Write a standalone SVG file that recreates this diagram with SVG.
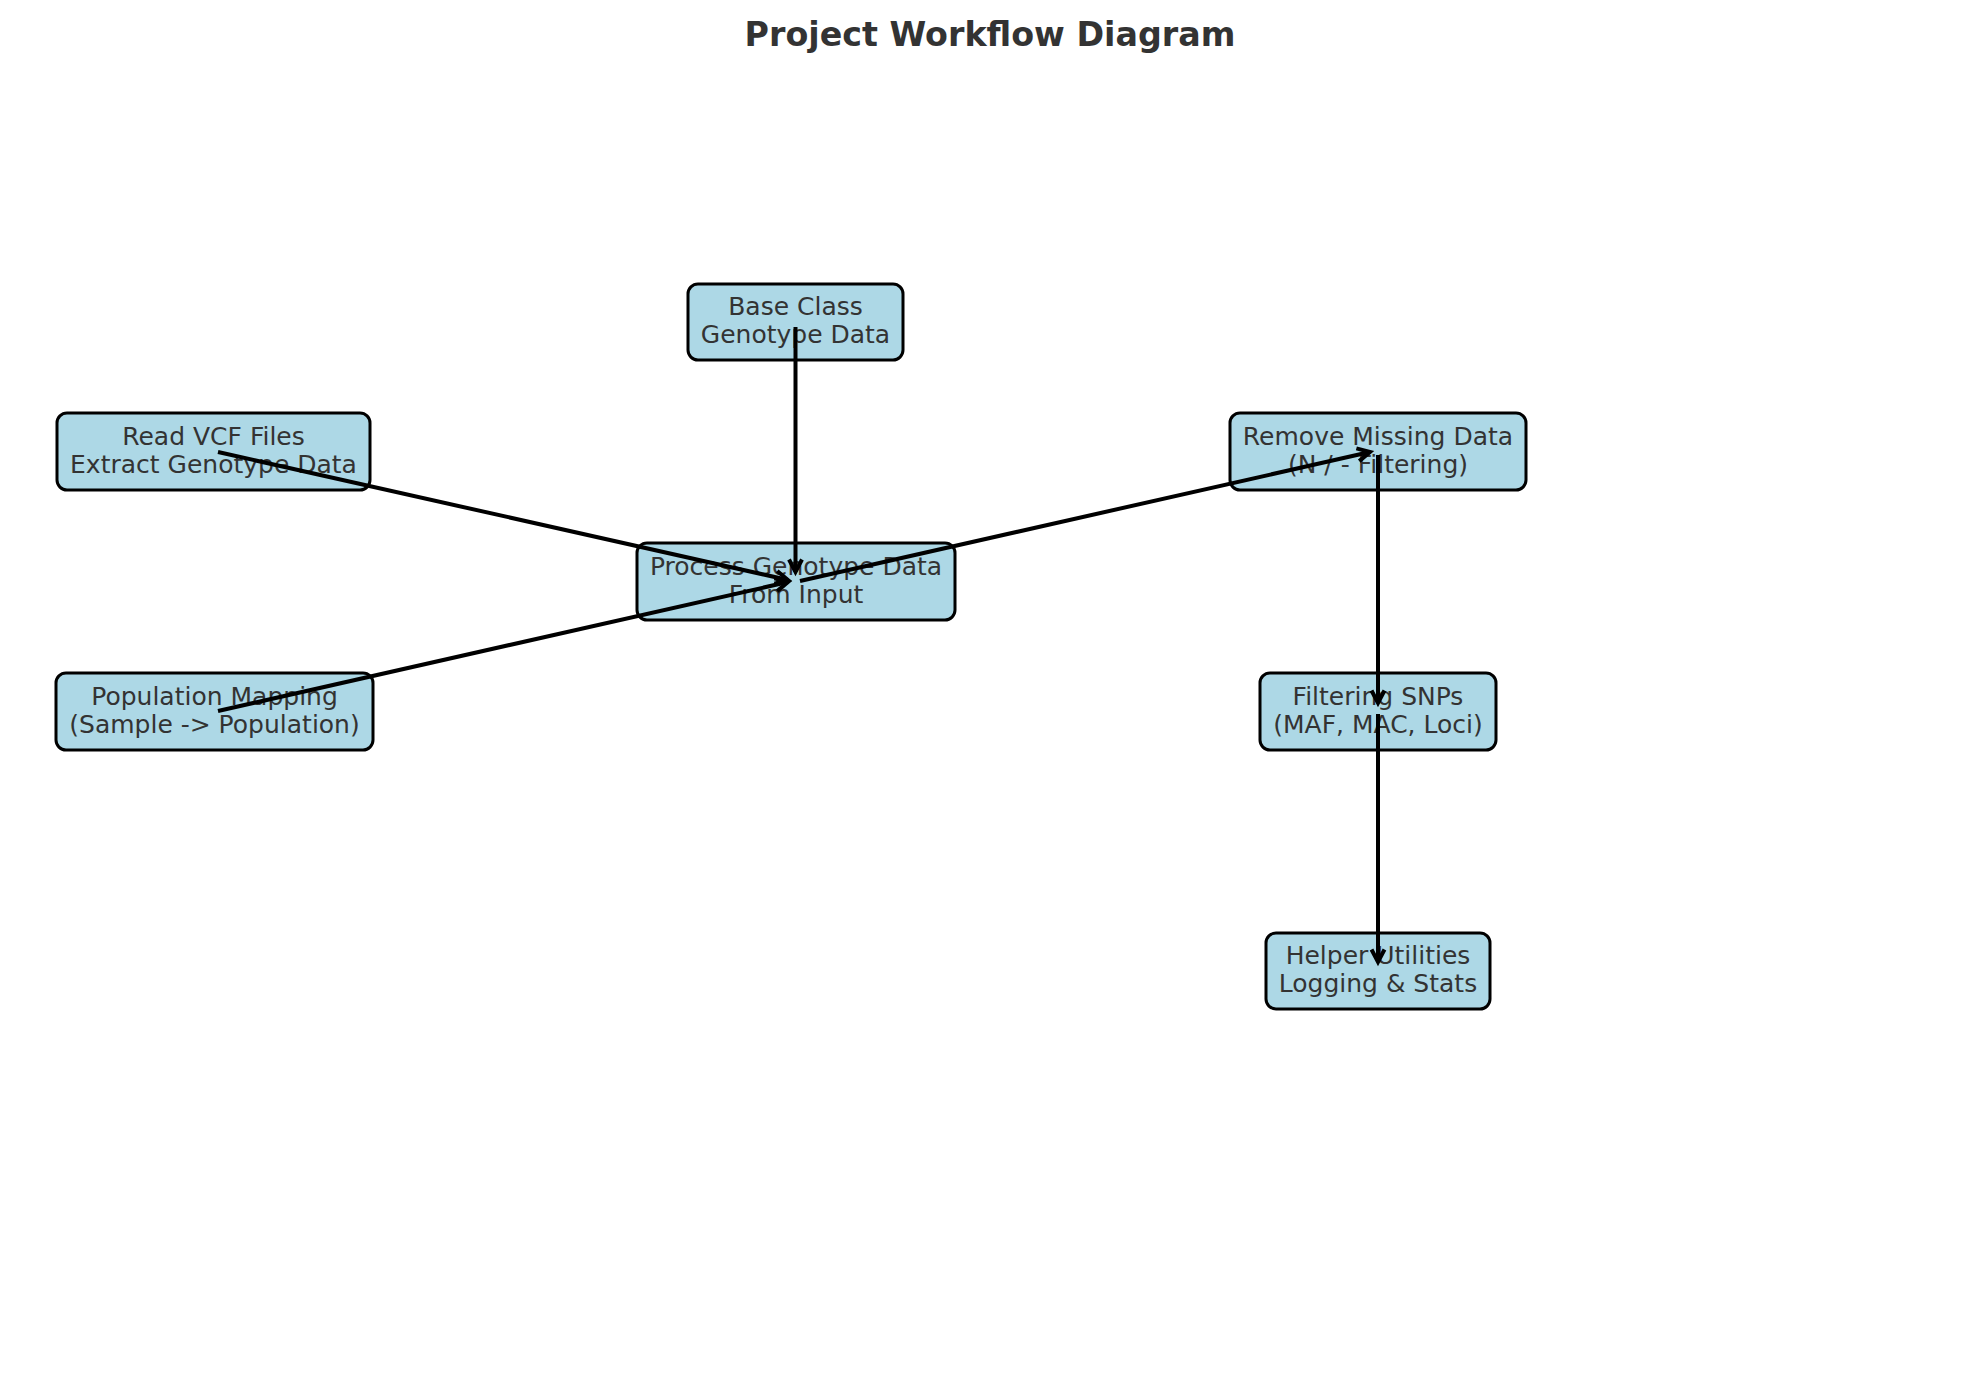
<svg xmlns="http://www.w3.org/2000/svg" width="1979" height="1380" viewBox="0 0 1979 1380">
<style>
.box{fill:#ADD8E6;stroke:#000;stroke-width:3}
.lbl{font-family:"DejaVu Sans",sans-serif;font-size:25px;fill:#333333;text-anchor:middle}
.title{font-family:"DejaVu Sans",sans-serif;font-size:33.3px;font-weight:bold;fill:#333333;text-anchor:middle}
.edge{stroke:#000;stroke-width:4;fill:none;marker-end:url(#arr)}
</style>
<defs>
<marker id="arr" markerUnits="userSpaceOnUse" viewBox="-16 -10 20 20" refX="0" refY="0" markerWidth="20" markerHeight="20" orient="auto" overflow="visible">
<path d="M-12.5,-6.5 L0,0 L-12.5,6.5" fill="none" stroke="#000" stroke-width="4" stroke-linejoin="miter"/>
</marker>
</defs>
<rect width="1979" height="1380" fill="#fff"/>
<text class="title" x="990" y="46">Project Workflow Diagram</text>
<g id="node-base">
<rect class="box" x="688" y="284" width="215" height="76" rx="10"/>
<text class="lbl" x="795.5" y="315">Base Class</text>
<text class="lbl" x="795.5" y="343">Genotype Data</text>
</g>
<g id="node-readvcf">
<rect class="box" x="57" y="413" width="313" height="77" rx="10"/>
<text class="lbl" x="213.5" y="445">Read VCF Files</text>
<text class="lbl" x="213.5" y="473">Extract Genotype Data</text>
</g>
<g id="node-process">
<rect class="box" x="637" y="543" width="318" height="77" rx="10"/>
<text class="lbl" x="796" y="575">Process Genotype Data</text>
<text class="lbl" x="796" y="603">From Input</text>
</g>
<g id="node-population">
<rect class="box" x="56" y="673" width="317" height="77" rx="10"/>
<text class="lbl" x="214.5" y="705">Population Mapping</text>
<text class="lbl" x="214.5" y="733">(Sample -&gt; Population)</text>
</g>
<g id="node-remove">
<rect class="box" x="1230" y="413" width="296" height="77" rx="10"/>
<text class="lbl" x="1378" y="445">Remove Missing Data</text>
<text class="lbl" x="1378" y="473">(N / - Filtering)</text>
</g>
<g id="node-filter">
<rect class="box" x="1260" y="673" width="236" height="77" rx="10"/>
<text class="lbl" x="1378" y="705">Filtering SNPs</text>
<text class="lbl" x="1378" y="733">(MAF, MAC, Loci)</text>
</g>
<g id="node-helper">
<rect class="box" x="1266" y="933" width="224" height="76" rx="10"/>
<text class="lbl" x="1378" y="964">Helper Utilities</text>
<text class="lbl" x="1378" y="992">Logging &amp; Stats</text>
</g>
<g id="connectors">
<path class="edge" d="M795.5 327 L795.5 572"/>
<path class="edge" d="M218 452 L788 580"/>
<path class="edge" d="M218 711 L788 582"/>
<path class="edge" d="M800 581 L1370 452"/>
<path class="edge" d="M1378 455 L1378 703"/>
<path class="edge" d="M1378 714 L1378 962"/>
</g>
</svg>
